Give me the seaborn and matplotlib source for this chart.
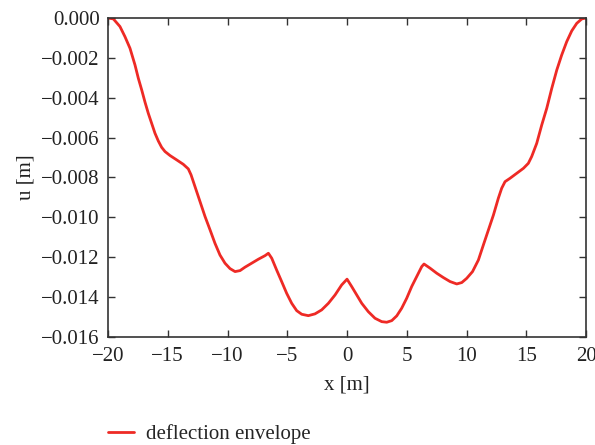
import numpy as np
import pandas as pd
import matplotlib
matplotlib.use("Agg")
import matplotlib.pyplot as plt
import seaborn as sns

x_m = [-20.0, -19.55, -19.0, -18.58, -18.16, -17.74, -17.46, -17.18, -16.90, -16.63,
       -16.35, -16.07, -15.79, -15.51, -15.23, -14.81, -14.25, -13.70, -13.28, -13.05,
       -12.72, -12.30, -11.88, -11.46, -11.05, -10.63, -10.21, -9.79, -9.37, -8.95,
       -8.54, -7.98, -7.42, -6.86, -6.58, -6.30, -5.89, -5.47, -5.05, -4.63,
       -4.21, -3.79, -3.24, -2.68, -2.12, -1.56, -1.00, -0.45, 0.0, 0.39,
       0.81, 1.23, 1.78, 2.34, 2.90, 3.32, 3.74, 4.16, 4.57, 4.99,
       5.41, 5.83, 6.25, 6.44, 6.95, 7.50, 8.06, 8.62, 9.18, 9.60,
       10.01, 10.50, 10.99, 11.41, 11.83, 12.25, 12.66, 12.94, 13.22, 13.64,
       14.20, 14.76, 15.17, 15.45, 15.87, 16.29, 16.71, 17.13, 17.55, 17.96,
       18.38, 18.80, 19.22, 19.64, 20.0]
u_m = [0.0, -0.00005, -0.00043, -0.00094, -0.00152, -0.00236, -0.00303, -0.00361, -0.00423, -0.00478,
       -0.00528, -0.00578, -0.00617, -0.00649, -0.00670, -0.00690, -0.00712, -0.00734, -0.00757, -0.00787,
       -0.00846, -0.00921, -0.00996, -0.01063, -0.01130, -0.01189, -0.01230, -0.01257, -0.01272, -0.01267,
       -0.01250, -0.01230, -0.01210, -0.01192, -0.01180, -0.01205, -0.01264, -0.01322, -0.01381, -0.01431,
       -0.01468, -0.01486, -0.01493, -0.01484, -0.01464, -0.01431, -0.01389, -0.01339, -0.01310, -0.01347,
       -0.01389, -0.01431, -0.01473, -0.01506, -0.01523, -0.01526, -0.01518, -0.01494, -0.01456, -0.01406,
       -0.01347, -0.01297, -0.01247, -0.01234, -0.01255, -0.01280, -0.01302, -0.01322, -0.01334, -0.01327,
       -0.01306, -0.01272, -0.01214, -0.01138, -0.01063, -0.00988, -0.00904, -0.00854, -0.00821, -0.00804,
       -0.00779, -0.00754, -0.00729, -0.00695, -0.00629, -0.00537, -0.00453, -0.00353, -0.00261, -0.00186,
       -0.00119, -0.00065, -0.00027, -0.00005, 0.0]
series_label = "deflection envelope"
x_ticks = [-20, -15, -10, -5, 0, 5, 10, 15, 20]
y_ticks = [-0.016, -0.014, -0.012, -0.010, -0.008, -0.006, -0.004, -0.002, 0.000]

df = pd.DataFrame({"x": x_m, "u": u_m, "series": series_label})

sns.set_theme(style="ticks")
plt.rcParams["font.family"] = ["Liberation Serif", "DejaVu Serif"]
plt.rcParams["axes.unicode_minus"] = True

fig = plt.figure(figsize=(5.95, 4.45), dpi=100)
ax = fig.add_axes([0.1815, 0.2427, 0.8035, 0.717])

sns.lineplot(data=df, x="x", y="u", hue="series", palette=["#EE2A25"],
             linewidth=2.0, ax=ax, sort=False, legend=True)

FS = 15
ax.set_xlim(-20, 20)
ax.set_ylim(-0.016, 0.0)
ax.set_xticks(x_ticks)
ax.set_yticks(y_ticks)
ax.set_yticklabels([f"{v:.3f}".replace("-", "\u2212") for v in y_ticks])
ax.set_xticklabels([str(v).replace("-", "\u2212") for v in x_ticks])
ax.tick_params(direction="in", top=True, right=True, length=5, width=1.0,
               labelsize=FS, colors="#333333", labelcolor="#222222")
ax.tick_params(axis="y", pad=6)
ax.tick_params(axis="x", pad=7)
for s in ax.spines.values():
    s.set_color("#333333")
    s.set_linewidth(1.2)
ax.set_xlabel("x [m]", fontsize=FS, color="#222222", labelpad=7)
ax.set_ylabel("u [m]", fontsize=FS, color="#222222", labelpad=4)

handles, labels = ax.get_legend_handles_labels()
ax.get_legend().remove()
fig.legend(handles, labels, loc="center left", bbox_to_anchor=(0.150, 0.024),
           frameon=False, fontsize=FS, handlelength=1.25, handletextpad=0.55)

fig.savefig("out.png", dpi=100)
